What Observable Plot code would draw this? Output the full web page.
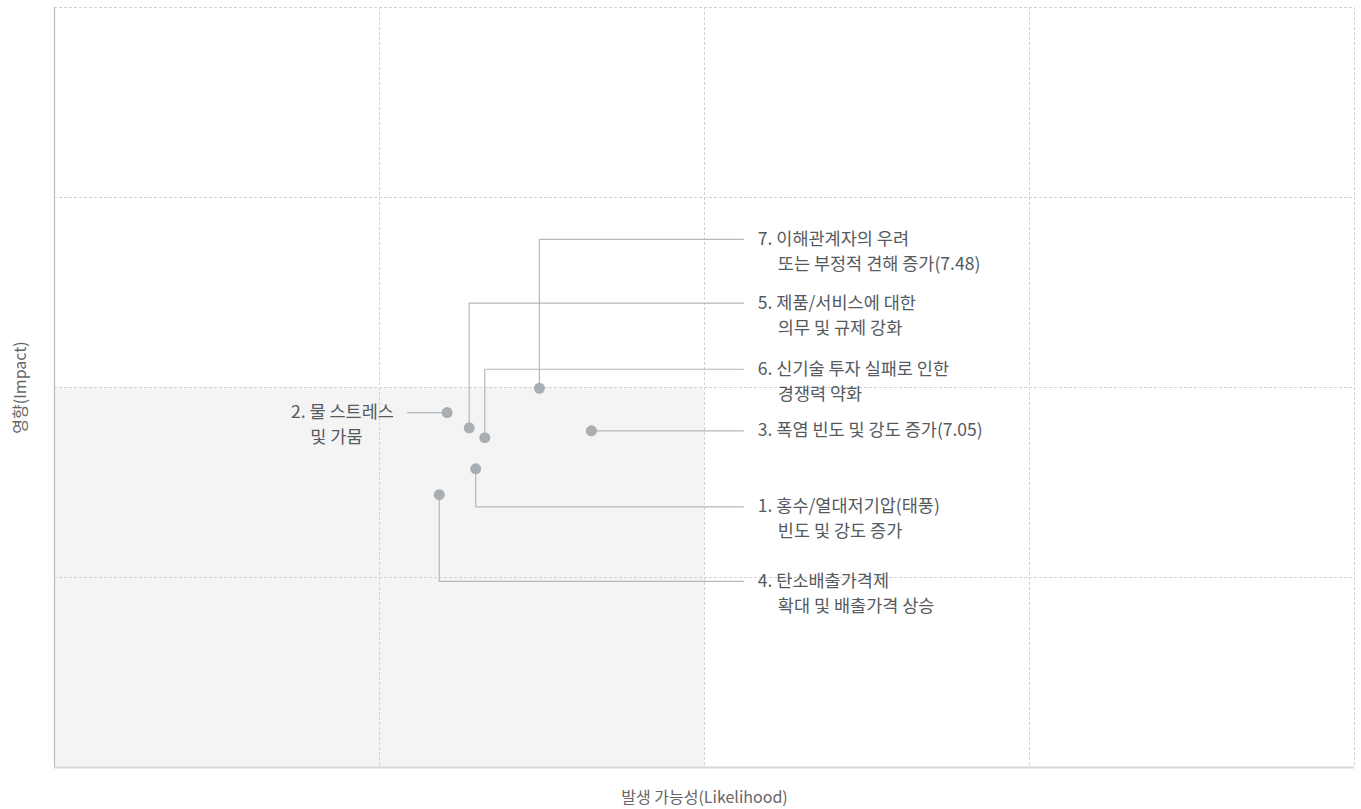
<!DOCTYPE html>
<html>
<head>
<meta charset="utf-8">
<script src="https://cdn.jsdelivr.net/npm/d3@7"></script>
<script src="https://cdn.jsdelivr.net/npm/@observablehq/plot@0.6"></script>
<style>
  body { margin: 0; background: #fff; }
  #chart svg { display: block; }
</style>
</head>
<body>
<div id="chart"></div>
<script>
// ---- data ----
const ids = [1, 2, 3, 4, 5, 6, 7];
const labelLine1 = [
  "1. 홍수/열대저기압(태풍)",
  "2. 물 스트레스",
  "3. 폭염 빈도 및 강도 증가(7.05)",
  "4. 탄소배출가격제",
  "5. 제품/서비스에 대한",
  "6. 신기술 투자 실패로 인한",
  "7. 이해관계자의 우려"
];
const labelLine2 = [
  "빈도 및 강도 증가",
  "및 가뭄",
  "",
  "확대 및 배출가격 상승",
  "의무 및 규제 강화",
  "경쟁력 약화",
  "또는 부정적 견해 증가(7.48)"
];
const likelihood = [3.24, 3.02, 4.13, 2.96, 3.19, 3.31, 3.73];
const impact     = [3.93, 4.67, 4.43, 3.59, 4.47, 4.34, 4.99];
const labelLevel = [3.43, 4.67, 4.43, 2.45, 6.11, 5.24, 6.95];
const labelSide  = ["right", "left", "right", "right", "right", "right", "right"];
const gridTicks = [2.5, 5, 7.5, 10];
const xTitle = "발생 가능성(Likelihood)";
const yTitle = "영향(Impact)";

// ---- build ----
const rightLineEnd = 5.3, rightTextX = 5.41;
const leftLineEnd = 2.715, leftTextX = 2.215;

const risks = ids.map((id, i) => ({
  id, l1: labelLine1[i], l2: labelLine2[i],
  x: likelihood[i], y: impact[i], ly: labelLevel[i], side: labelSide[i],
  tx: labelSide[i] === "right" ? rightTextX : leftTextX
}));

const leaders = risks.flatMap(d => d.side === "right"
  ? [{id: d.id, x: d.x, y: d.y}, {id: d.id, x: d.x, y: d.ly}, {id: d.id, x: rightLineEnd, y: d.ly}]
  : [{id: d.id, x: leftLineEnd, y: d.ly}, {id: d.id, x: d.x, y: d.y}]);

const right = risks.filter(d => d.side === "right");
const left = risks.filter(d => d.side === "left");
const font = "'Noto Sans CJK KR', 'Noto Sans', sans-serif";
const textColor = "#555a5e";
const fs = 17.5;

const chart = Plot.plot({
  width: 1361,
  height: 809,
  marginLeft: 54,
  marginRight: 7,
  marginTop: 7,
  marginBottom: 42,
  style: {fontFamily: font, background: "#fff"},
  x: {domain: [0, 10], axis: null},
  y: {domain: [0, 10], axis: null},
  marks: [
    Plot.rect([0], {x1: 0, x2: 5, y1: 0, y2: 5, fill: "#f4f4f4"}),
    Plot.ruleX(gridTicks, {stroke: "#d2d2d2", strokeDasharray: "3,2"}),
    Plot.ruleY(gridTicks, {stroke: "#d2d2d2", strokeDasharray: "3,2"}),
    Plot.ruleX([0], {stroke: "#b9bdbf", strokeWidth: 1.2}),
    Plot.ruleY([0], {stroke: "#d3d8da", strokeWidth: 2}),
    Plot.line(leaders, {x: "x", y: "y", z: "id", stroke: "#b4b8bb", strokeWidth: 1.2}),
    Plot.dot(risks, {x: "x", y: "y", r: 5.5, fill: "#a9aeb2", stroke: null}),
    Plot.text(right, {x: "tx", y: "ly", text: "l1", textAnchor: "start", lineAnchor: "middle", fontSize: fs, fill: textColor}),
    Plot.text(right, {x: "tx", y: "ly", text: "l2", textAnchor: "start", lineAnchor: "middle", dx: 20, dy: 25, fontSize: fs, fill: textColor}),
    Plot.text(left, {x: "tx", y: "ly", text: "l1", textAnchor: "middle", lineAnchor: "middle", fontSize: fs, fill: textColor}),
    Plot.text(left, {x: "tx", y: "ly", text: "l2", textAnchor: "middle", lineAnchor: "middle", dx: -6, dy: 25, fontSize: fs, fill: textColor}),
    Plot.text([xTitle], {frameAnchor: "bottom", dy: 30, text: d => d, fontSize: 16, fill: "#666", textAnchor: "middle", lineAnchor: "middle"}),
    Plot.text([yTitle], {frameAnchor: "left", dx: -34, rotate: -90, text: d => d, fontSize: 16, fill: "#666", textAnchor: "middle", lineAnchor: "middle"})
  ]
});
document.getElementById("chart").append(chart);
</script>
</body>
</html>
